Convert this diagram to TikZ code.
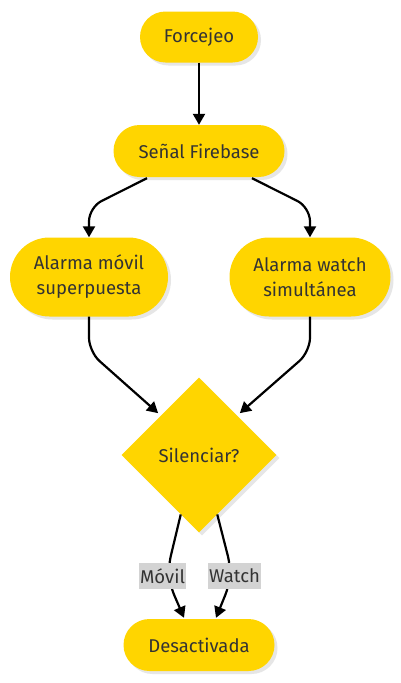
\documentclass[tikz,border=0pt]{standalone}
\usepackage{fontspec}
\setmainfont{Fira Sans}
\usetikzlibrary{shapes.geometric,shapes.misc,arrows.meta,shadows,calc}
\definecolor{yel}{HTML}{FFD500}
\definecolor{txt}{HTML}{333333}
\definecolor{lbl}{HTML}{D3D3D3}
\definecolor{shd}{HTML}{E6E6E6}
\tikzset{
  pill/.style={rounded rectangle, fill=yel, text=txt, font=\fontsize{18.5}{25}\selectfont,
    align=center, inner sep=0pt, drop shadow={shadow xshift=3pt, shadow yshift=-3pt, fill=shd, opacity=1}},
  dia/.style={diamond, fill=yel, text=txt, font=\fontsize{18.5}{25}\selectfont, inner sep=0pt,
    minimum width=155pt, minimum height=155pt, aspect=1,
    drop shadow={shadow xshift=3pt, shadow yshift=-3pt, fill=shd, opacity=1}},
  conn/.style={draw=black, line width=2.2pt, -{Triangle[length=11pt,width=12pt]}, rounded corners=14pt},
  elabel/.style={fill=lbl, text=txt, font=\fontsize{18.5}{20}\selectfont, inner xsep=1.5pt, inner ysep=0pt,
    minimum height=26pt}
}
\begin{document}
\begin{tikzpicture}[x=1pt,y=-1pt]
\useasboundingbox[fill=white] (0,0) rectangle (400,683);
\node[pill, minimum width=118pt, minimum height=51pt] (f) at (199,37) {Forcejeo};
\node[pill, minimum width=171pt, minimum height=52pt] (s) at (199,151) {Señal Firebase};
\node[pill, minimum width=158pt, minimum height=79pt] (am) at (89,277) {Alarma móvil\\superpuesta};
\node[pill, minimum width=161pt, minimum height=79pt] (aw) at (310,277) {Alarma watch\\simultánea};
\node[dia] (q) at (199,455) {Silenciar?};
\node[pill, minimum width=151pt, minimum height=52pt] (d) at (199,645) {Desactivada};

\draw[conn] (f.south) -- (s.north);
\draw[conn] ($(s.south)+(-52,1)$) -- ($(am.north)+(0,-30)$) -- (am.north);
\draw[conn] ($(s.south)+(53,1)$) -- ($(aw.north)+(0,-30)$) -- (aw.north);
\draw[conn] (am.south) -- ($(am.south)+(0,35)$) -- ($(q.north west)+(-2,-3)$);
\draw[conn] (aw.south) -- ($(aw.south)+(0,35)$) -- ($(q.north east)+(2,-3)$);

\coordinate (lm) at (166,576);
\coordinate (lw) at (233,576);
\draw[conn, rounded corners=20pt] ($(q.west)!0.765!(q.south)$) -- (lm) -- ($(d.north)+(-15,-1)$);
\draw[conn, rounded corners=20pt] ($(q.east)!0.765!(q.south)$) -- (lw) -- ($(d.north)+(17,-1)$);
\node[elabel] (ml) at (162.5,576) {Móvil};
\node[elabel] (wl) at (234.5,576) {Watch};
\end{tikzpicture}
\end{document}
